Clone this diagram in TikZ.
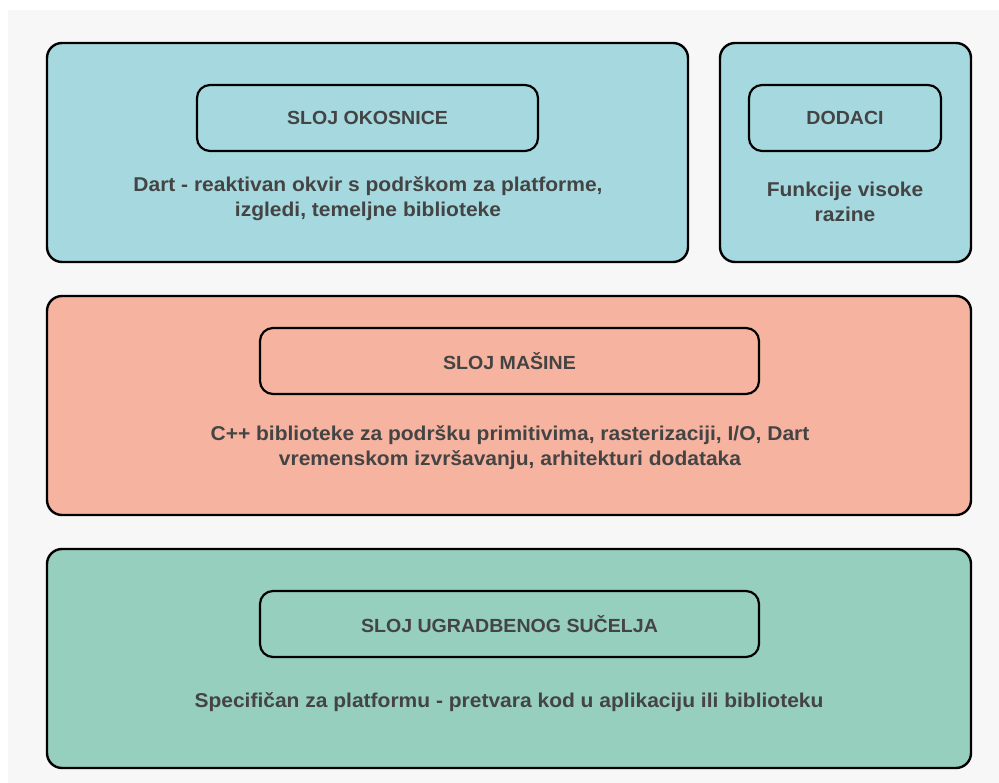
\documentclass[tikz,border=0pt]{standalone}
\usepackage{fontspec}
\setmainfont{Liberation Sans}
\newfontfamily\descfont[FakeStretch=1.05]{Liberation Sans}
\newfontfamily\titlefont[FakeStretch=1.03]{Liberation Sans}
\definecolor{bgc}{HTML}{F7F7F7}
\definecolor{cyanc}{HTML}{A6D9DF}
\definecolor{salmonc}{HTML}{F6B39F}
\definecolor{greenc}{HTML}{96CFBD}
\definecolor{txtc}{HTML}{444444}
\begin{document}
\begin{tikzpicture}[x=1pt,y=-1pt,
  outerbox/.style={draw=black,line width=2.4pt,rounded corners=15pt,inner sep=0pt},
  innerbox/.style={draw=black,line width=2.2pt,rounded corners=13pt,inner sep=0pt,minimum height=66pt,
    font=\titlefont\bfseries\fontsize{19}{23}\selectfont,text=txtc},
  desc/.style={align=center,font=\descfont\bfseries\fontsize{20}{25}\selectfont,text=txtc}]
\useasboundingbox (0,0) rectangle (999,783);
\fill[white] (0,0) rectangle (999,783);
\fill[bgc] (8,10) rectangle (999,783);
\node[outerbox,fill=cyanc,minimum width=641pt,minimum height=219pt] (fw) at (367.5,152.5) {};
\node[outerbox,fill=cyanc,minimum width=251pt,minimum height=219pt] (pl) at (845.5,152.5) {};
\node[outerbox,fill=salmonc,minimum width=924pt,minimum height=219pt] (en) at (509,405.5) {};
\node[outerbox,fill=greenc,minimum width=924pt,minimum height=219pt] (em) at (509,658.5) {};
\node[innerbox,minimum width=341pt] (fwt) at (367.5,118) {SLOJ OKOSNICE};
\node[innerbox,minimum width=192pt] (plt) at (845,118) {DODACI};
\node[innerbox,minimum width=499pt] (ent) at (509.5,361) {SLOJ MAŠINE};
\node[innerbox,minimum width=499pt] (emt) at (509.5,624) {SLOJ UGRADBENOG SUČELJA};
\node[desc] (fwd) at (368,199) {Dart - reaktivan okvir s podrškom za platforme,\\izgledi, temeljne biblioteke};
\node[desc] (pld) at (845,202) {Funkcije visoke\\razine};
\node[desc] (end) at (510,448) {C++ biblioteke za podršku primitivima, rasterizaciji, I/O, Dart\\vremenskom izvršavanju, arhitekturi dodataka};
\node[desc] (emd) at (509,702) {Specifičan za platformu - pretvara kod u aplikaciju ili biblioteku};
\end{tikzpicture}
\end{document}
